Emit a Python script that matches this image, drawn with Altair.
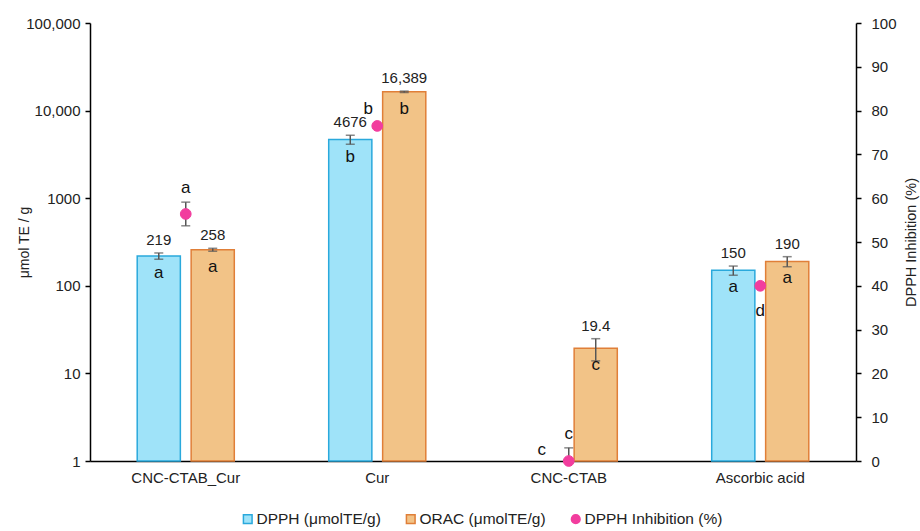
import altair as alt
import pandas as pd

# Samples and series
samples = ["CNC-CTAB_Cur", "Cur", "CNC-CTAB", "Ascorbic acid"]
series_names = ["DPPH (μmolTE/g)", "ORAC (μmolTE/g)", "DPPH Inhibition (%)"]

# Antioxidant capacity (μmol TE / g), mean and SD
dpph_values = [219, 4676, None, 150]
dpph_errors = [18, 550, None, 18]
dpph_labels = ["219", "4676", "", "150"]
dpph_letters = ["a", "b", "c", "a"]

orac_values = [258, 16389, 19.4, 190]
orac_errors = [10, 300, 5.5, 25]
orac_labels = ["258", "16,389", "19.4", "190"]
orac_letters = ["a", "b", "c", "a"]

# DPPH radical inhibition (%), mean and SD
inhibition_values = [56.4, 76.5, 0.0, 40.0]
inhibition_errors = [2.7, 0.4, 3.0, 0.5]
inhibition_letters = ["a", "b", "c", "d"]

fill_colors = ["#9fe3f9", "#f2c387", "#f23d9e"]
stroke_colors = ["#2aa9dc", "#e07f38", "#f23d9e"]
FONT = "Liberation Sans"

rows = []
for name, vals, errs, labs, lets in [
    (series_names[0], dpph_values, dpph_errors, dpph_labels, dpph_letters),
    (series_names[1], orac_values, orac_errors, orac_labels, orac_letters),
]:
    for s, v, e, lab, let in zip(samples, vals, errs, labs, lets):
        rows.append({
            "sample": s, "series": name, "value": v,
            "lo": None if v is None else v - e,
            "hi": None if v is None else v + e,
            "label": lab, "letter": let,
        })
bars_df = pd.DataFrame(rows)

pct_df = pd.DataFrame({
    "sample": samples,
    "series": series_names[2],
    "pct": inhibition_values,
    "lo": [max(v - e, 0) for v, e in zip(inhibition_values, inhibition_errors)],
    "hi": [v + e for v, e in zip(inhibition_values, inhibition_errors)],
    "letter": inhibition_letters,
})

color_scale = alt.Scale(domain=series_names, range=fill_colors)
stroke_scale = alt.Scale(domain=series_names, range=stroke_colors)
shape_scale = alt.Scale(domain=series_names, range=["square", "square", "circle"])

x_enc = alt.X(
    "sample:N", sort=samples,
    scale=alt.Scale(paddingInner=0.493, paddingOuter=0.2465),
    axis=alt.Axis(title=None, labelAngle=0, ticks=False, domainColor="black",
                  domainWidth=1.5, labelFontSize=15, labelFont=FONT,
                  labelColor="#222", labelPadding=9),
)
xoff_enc = alt.XOffset(
    "series:N", sort=series_names[:2],
    scale=alt.Scale(domain=series_names[:2], paddingInner=0.2, paddingOuter=0),
)

left_axis = alt.Axis(
    values=[1, 10, 100, 1000, 10000, 100000],
    labelExpr="datum.value >= 10000 ? format(datum.value, ',') : format(datum.value, 'd')",
    title="μmol TE / g", titleFont=FONT, titleFontSize=14, titleFontWeight="normal",
    titleColor="#222", titleAngle=-90, titleX=-66, titleY=219, titleBaseline="middle",
    titleAlign="center", grid=False, domainColor="black", domainWidth=1.5,
    tickColor="black", tickSize=5, tickWidth=1.5, labelPadding=5,
    labelFont=FONT, labelFontSize=15, labelColor="#222",
)
left_scale = alt.Scale(type="log", domain=[1, 100000])

right_axis = alt.Axis(
    values=list(range(0, 101, 10)), orient="right",
    title="DPPH Inhibition (%)", titleFont=FONT, titleFontSize=14.5,
    titleFontWeight="normal", titleColor="#222", titleAngle=-90, titleX=55,
    titleY=219, titleBaseline="middle", titleAlign="center", grid=False,
    domainColor="black", domainWidth=1.5, tickColor="black", tickSize=5,
    tickWidth=1.5, labelPadding=10, labelFont=FONT, labelFontSize=15,
    labelColor="#222",
)
right_scale = alt.Scale(domain=[0, 100])


def ly(field):
    return alt.Y(field, scale=left_scale, axis=left_axis)


def ry(field):
    return alt.Y(field, scale=right_scale, axis=right_axis)


series_color = alt.Color("series:N", scale=color_scale, title=None)
series_stroke = alt.Stroke("series:N", scale=stroke_scale, title=None)

base = alt.Chart(bars_df).encode(x=x_enc, xOffset=xoff_enc)
valid = base.transform_filter("isValid(datum.value)")

bars = valid.mark_bar(strokeWidth=1.5).encode(
    y=ly("value:Q"), y2=alt.datum(1),
    color=series_color, stroke=series_stroke,
)
err_rule = valid.mark_rule(color="#555", strokeWidth=1.5).encode(
    y=ly("lo:Q"), y2="hi:Q")
cap_lo = valid.mark_tick(color="#555", size=9, thickness=1.5).encode(y=ly("lo:Q"))
cap_hi = valid.mark_tick(color="#555", size=9, thickness=1.5).encode(y=ly("hi:Q"))
value_text = valid.mark_text(font=FONT, fontSize=15, color="#222",
                             baseline="bottom", dy=-5).encode(
    y=ly("hi:Q"), text="label:N")
letter_in = valid.mark_text(font=FONT, fontSize=17, color="#111",
                            baseline="middle", dy=17).encode(
    y=ly("value:Q"), text="letter:N")
letter_missing = base.transform_filter("!isValid(datum.value)").mark_text(
    font=FONT, fontSize=17, color="#111", baseline="middle", dy=-11).encode(
    y=alt.Y(datum=1, scale=left_scale, axis=left_axis), text="letter:N")

left = alt.layer(bars, err_rule, cap_lo, cap_hi, value_text, letter_in, letter_missing)

pbase = alt.Chart(pct_df).encode(x=x_enc)
p_rule = pbase.mark_rule(color="#555", strokeWidth=1.5).encode(y=ry("lo:Q"), y2="hi:Q")
p_cap_lo = pbase.mark_tick(color="#555", size=9, thickness=1.5).encode(y=ry("lo:Q"))
p_cap_hi = pbase.mark_tick(color="#555", size=9, thickness=1.5).encode(y=ry("hi:Q"))
points = pbase.mark_point(filled=True, size=115, opacity=1, strokeWidth=1).encode(
    y=ry("pct:Q"),
    color=series_color, stroke=series_stroke,
    shape=alt.Shape("series:N", scale=shape_scale, title=None),
)
p_letter_above = pbase.transform_filter(
    alt.FieldOneOfPredicate(field="sample", oneOf=["CNC-CTAB_Cur", "CNC-CTAB"])
).mark_text(font=FONT, fontSize=17, color="#111", baseline="middle", dy=-14).encode(
    y=ry("hi:Q"), text="letter:N")
p_letter_side = pbase.transform_filter(alt.datum.sample == "Cur").mark_text(
    font=FONT, fontSize=17, color="#111", baseline="middle", dx=-9, dy=-17).encode(
    y=ry("pct:Q"), text="letter:N")
p_letter_below = pbase.transform_filter(alt.datum.sample == "Ascorbic acid").mark_text(
    font=FONT, fontSize=17, color="#111", baseline="middle", dy=25).encode(
    y=ry("pct:Q"), text="letter:N")

right = alt.layer(p_rule, p_cap_lo, p_cap_hi, points, p_letter_above,
                  p_letter_side, p_letter_below)

chart = alt.layer(left, right).resolve_scale(y="independent").properties(
    width=766, height=438,
    autosize=alt.AutoSizeParams(type="none"),
    padding={"left": 90, "top": 23, "right": 64, "bottom": 70},
    background="white",
).configure_view(stroke=None).configure_legend(
    orient="none", legendX=150, legendY=488, direction="horizontal",
    columnPadding=22, symbolSize=75, symbolStrokeWidth=1.5, labelFont=FONT,
    labelFontSize=15.5, labelColor="#222", labelOffset=1,
)

chart.save("out.html", embed_options={"renderer": "svg", "actions": False})
